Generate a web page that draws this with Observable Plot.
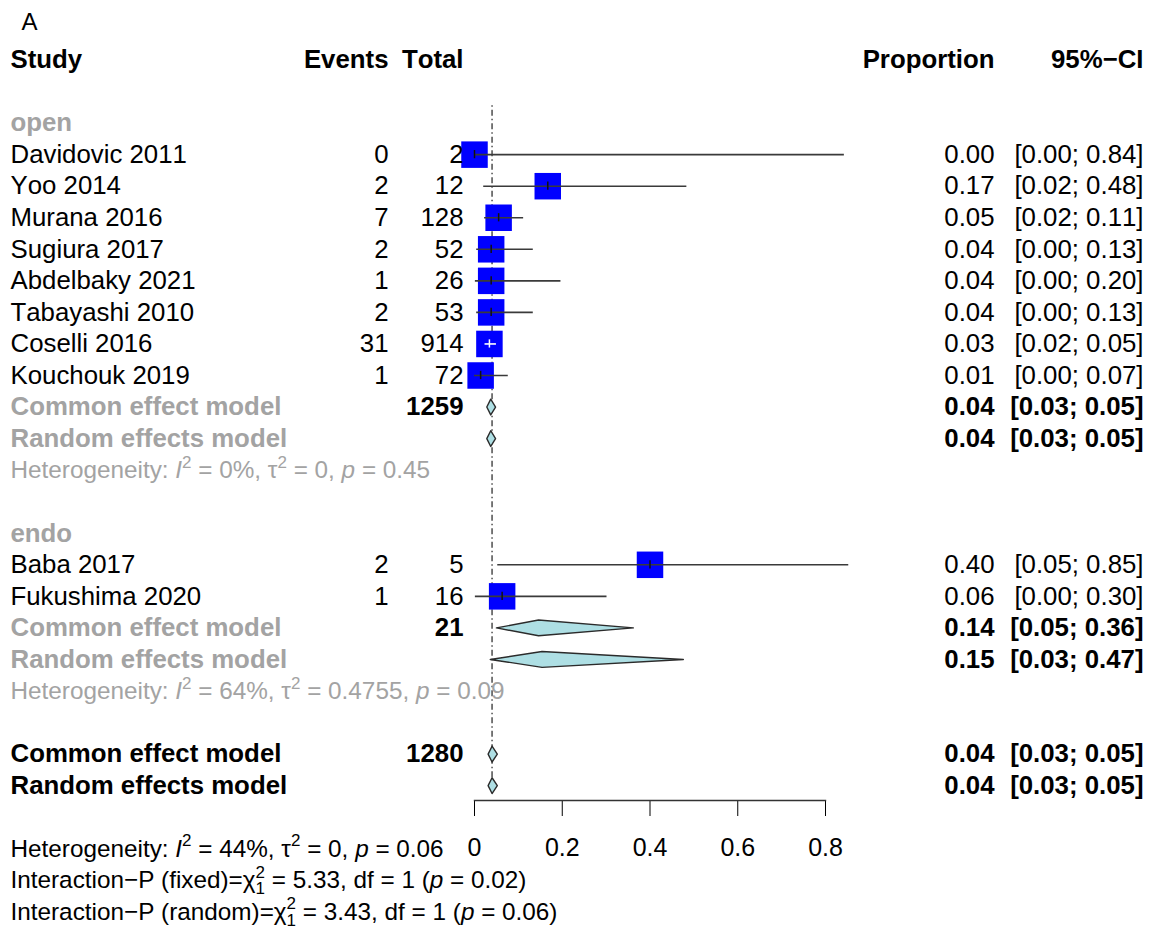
<!DOCTYPE html>
<html>
<head>
<meta charset="utf-8">
<script src="https://cdn.jsdelivr.net/npm/d3@7"></script>
<script src="https://cdn.jsdelivr.net/npm/@observablehq/plot@0.6"></script>
<style>
  body { margin: 0; background: #fff; }
  #chart svg { display: block; font-kerning: none; }
</style>
</head>
<body>
<div id="chart"></div>
<script>
// ---------------- data ----------------
const studies = ["Davidovic 2011", "Yoo 2014", "Murana 2016", "Sugiura 2017", "Abdelbaky 2021",
                 "Tabayashi 2010", "Coselli 2016", "Kouchouk 2019", "Baba 2017", "Fukushima 2020"];
const groups = ["open", "open", "open", "open", "open", "open", "open", "open", "endo", "endo"];
const events = [0, 2, 7, 2, 1, 2, 31, 1, 2, 1];
const totals = [2, 12, 128, 52, 26, 53, 914, 72, 5, 16];
const props  = [0.00, 0.167, 0.055, 0.038, 0.038, 0.038, 0.034, 0.014, 0.40, 0.063];
const lowers = [0.00, 0.021, 0.023, 0.005, 0.002, 0.005, 0.024, 0.000, 0.053, 0.002];
const uppers = [0.843, 0.484, 0.112, 0.134, 0.197, 0.134, 0.050, 0.077, 0.853, 0.302];
const propLabels = ["0.00", "0.17", "0.05", "0.04", "0.04", "0.04", "0.03", "0.01", "0.40", "0.06"];
const ciLabels = ["[0.00; 0.84]", "[0.02; 0.48]", "[0.02; 0.11]", "[0.00; 0.13]", "[0.00; 0.20]",
                  "[0.00; 0.13]", "[0.02; 0.05]", "[0.00; 0.07]", "[0.05; 0.85]", "[0.00; 0.30]"];

const subgroups = ["open", "endo"];
const modelNames = ["Common effect model", "Random effects model"];
// index: open, endo, overall
const modelTotals   = [1259, 21, 1280];
const commonEst     = [0.037, 0.146, 0.040];
const commonLower   = [0.028, 0.050, 0.031];
const commonUpper   = [0.048, 0.362, 0.052];
const randomEst     = [0.037, 0.154, 0.040];
const randomLower   = [0.028, 0.036, 0.031];
const randomUpper   = [0.048, 0.476, 0.052];
const commonLabels  = ["0.04", "0.14", "0.04"];
const commonCI      = ["[0.03; 0.05]", "[0.05; 0.36]", "[0.03; 0.05]"];
const randomLabels  = ["0.04", "0.15", "0.04"];
const randomCI      = ["[0.03; 0.05]", "[0.03; 0.47]", "[0.03; 0.05]"];
const hetLabels = [
  "Heterogeneity: {i:I}{sup:2} = 0%, τ{sup:2} = 0, {i:p} = 0.45",
  "Heterogeneity: {i:I}{sup:2} = 64%, τ{sup:2} = 0.4755, {i:p} = 0.09"
];
const footerLabels = [
  "Heterogeneity: {i:I}{sup:2} = 44%, τ{sup:2} = 0, {i:p} = 0.06",
  "Interaction\u2212P (fixed)=χ{ss:2,1} = 5.33, df = 1 ({i:p} = 0.02)",
  "Interaction\u2212P (random)=χ{ss:2,1} = 3.43, df = 1 ({i:p} = 0.06)"
];
const headers = ["Study", "Events", "Total", "Proportion", "95%\u2212CI"];
const refValue = 0.04;
const xTicks = [0, 0.2, 0.4, 0.6, 0.8];

// ---------------- layout rows ----------------
const studyRows = [], modelRows = [], groupRows = [], hetRows = [], footerRows = [];
let r = 2;
subgroups.forEach((g, gi) => {
  groupRows.push({row: r, text: g}); r++;
  studies.forEach((s, i) => {
    if (groups[i] !== g) return;
    studyRows.push({row: r, study: s, events: events[i], total: totals[i], prop: props[i],
                    lower: lowers[i], upper: uppers[i], propLabel: propLabels[i], ciLabel: ciLabels[i]});
    r++;
  });
  modelNames.forEach((m, k) => {
    modelRows.push(k === 0
      ? {row: r, name: m, overall: false, total: String(modelTotals[gi]), est: commonEst[gi], lo: commonLower[gi], hi: commonUpper[gi], lab: commonLabels[gi], ci: commonCI[gi]}
      : {row: r, name: m, overall: false, total: "", est: randomEst[gi], lo: randomLower[gi], hi: randomUpper[gi], lab: randomLabels[gi], ci: randomCI[gi]});
    r++;
  });
  hetRows.push({row: r, text: hetLabels[gi]}); r += 2;
});
modelNames.forEach((m, k) => {
  modelRows.push(k === 0
    ? {row: r, name: m, overall: true, total: String(modelTotals[2]), est: commonEst[2], lo: commonLower[2], hi: commonUpper[2], lab: commonLabels[2], ci: commonCI[2]}
    : {row: r, name: m, overall: true, total: "", est: randomEst[2], lo: randomLower[2], hi: randomUpper[2], lab: randomLabels[2], ci: randomCI[2]});
  r++;
});
const lastRow = r - 1;
r += 1;
footerLabels.forEach(t => { footerRows.push({row: r, text: t}); r++; });

const DH = 0.25; // diamond half height in rows
const diamondPts = [];
modelRows.forEach((d, i) => {
  diamondPts.push({id: i, x: d.lo, y: d.row}, {id: i, x: d.est, y: d.row - DH},
                  {id: i, x: d.hi, y: d.row}, {id: i, x: d.est, y: d.row + DH},
                  {id: i, x: d.lo, y: d.row});
});

// ---------------- geometry ----------------
const W = 1153, H = 928;
const X0 = 474, X1 = 825;          // x axis pixel span
const ROW0 = 59.5, ROWH = 31.55;   // row layout
const SQ = 26.5;                   // square side
const pxPerUnit = (X1 - X0) / 0.8;
const GRAY = "#a3a3a3";
const FS = 25.8, FS2 = 24.3, FSTICK = 25;
const colX = [10 - X0, 388 - X0, 463 - X0, 994 - X0, 1143 - X0];

const isNarrow = d => (d.upper - d.lower) * pxPerUnit < SQ;
const headerMarks = headers.map((h, i) => Plot.text([h], {
  y: () => 0, text: d => d, frameAnchor: "left", dx: colX[i], fontWeight: "bold", fontSize: FS,
  textAnchor: i === 0 ? "start" : "end"
}));

const plot = Plot.plot({
  width: W,
  height: H,
  marginLeft: X0,
  marginRight: W - X1,
  marginTop: 0,
  marginBottom: H - 800,
  style: {fontFamily: "'Liberation Sans', Arial, sans-serif", fontSize: FSTICK + "px", background: "#fff", overflow: "visible", color: "#000"},
  x: {domain: [0, 0.8], ticks: xTicks, tickFormat: d => String(d), tickSize: 16, tickPadding: 22, label: null},
  y: {domain: [0, 28], range: [ROW0, ROW0 + 28 * ROWH], axis: null},
  color: {type: "identity"},
  marks: [
    Plot.frame({anchor: "bottom", stroke: "#333", strokeWidth: 1.4}),
    // reference line
    Plot.ruleX([refValue], {y1: 1.45, y2: lastRow + 0.2, stroke: "#333", strokeWidth: 1.3, strokeDasharray: "1.5,3,6,3"}),
    // diamonds
    Plot.line(diamondPts, {x: "x", y: "y", z: "id", fill: "#aedfe4", stroke: "#2b2b2b", strokeWidth: 1.4, curve: "linear"}),
    // squares
    Plot.dot(studyRows, {x: "prop", y: "row", symbol: "square", r: SQ / Math.sqrt(Math.PI), fill: "#0000ff", stroke: null}),
    // CI whiskers and estimate ticks
    Plot.ruleY(studyRows, {y: "row", x1: "lower", x2: "upper", stroke: d => isNarrow(d) ? "#ffffff" : "#3a3a3a", strokeWidth: 1.6}),
    Plot.ruleX(studyRows, {x: "prop", y1: d => d.row - 0.13, y2: d => d.row + 0.13, stroke: d => isNarrow(d) ? "#ffffff" : "#111111", strokeWidth: 1.5}),
    // header
    ...headerMarks,
    // panel label
    Plot.text(["A"], {y: () => -1.2, text: d => d, frameAnchor: "left", dx: 21 - X0, fontSize: 24, textAnchor: "start"}),
    // subgroup labels
    Plot.text(groupRows, {y: "row", text: "text", frameAnchor: "left", dx: colX[0], fontWeight: "bold", fontSize: FS, fill: GRAY, textAnchor: "start"}),
    // study rows
    Plot.text(studyRows, {y: "row", text: "study", frameAnchor: "left", dx: colX[0], fontSize: FS, textAnchor: "start"}),
    Plot.text(studyRows, {y: "row", text: d => String(d.events), frameAnchor: "left", dx: colX[1], fontSize: FS, textAnchor: "end"}),
    Plot.text(studyRows, {y: "row", text: d => String(d.total), frameAnchor: "left", dx: colX[2], fontSize: FS, textAnchor: "end"}),
    Plot.text(studyRows, {y: "row", text: "propLabel", frameAnchor: "left", dx: colX[3], fontSize: FS, textAnchor: "end"}),
    Plot.text(studyRows, {y: "row", text: "ciLabel", frameAnchor: "left", dx: colX[4], fontSize: FS, textAnchor: "end"}),
    // model rows
    Plot.text(modelRows, {y: "row", text: "name", frameAnchor: "left", dx: colX[0], fontSize: FS, fontWeight: "bold", fill: d => d.overall ? "#000000" : GRAY, textAnchor: "start"}),
    Plot.text(modelRows, {y: "row", text: "total", frameAnchor: "left", dx: colX[2], fontSize: FS, fontWeight: "bold", textAnchor: "end"}),
    Plot.text(modelRows, {y: "row", text: "lab", frameAnchor: "left", dx: colX[3], fontSize: FS, fontWeight: "bold", textAnchor: "end"}),
    Plot.text(modelRows, {y: "row", text: "ci", frameAnchor: "left", dx: colX[4], fontSize: FS, fontWeight: "bold", textAnchor: "end"}),
    // heterogeneity
    Plot.text(hetRows, {y: "row", text: "text", frameAnchor: "left", dx: colX[0], fontSize: FS2, fill: GRAY, textAnchor: "start"}),
    Plot.text(footerRows, {y: "row", text: "text", frameAnchor: "left", dx: colX[0], fontSize: FS2, textAnchor: "start"})
  ]
});

// rich text: italics, superscripts, stacked sup/sub
function richify(svg, fs) {
  const ns = "http://www.w3.org/2000/svg";
  svg.querySelectorAll("text").forEach(t => {
    const s = t.textContent;
    if (!s.includes("{")) return;
    t.textContent = "";
    const re = /\{(\w+):([^}]*)\}/g;
    let last = 0, m, pending = 0;
    const add = (txt, attrs) => {
      const ts = document.createElementNS(ns, "tspan");
      ts.textContent = txt;
      for (const k in attrs) ts.setAttribute(k, attrs[k]);
      t.appendChild(ts);
    };
    const plain = (txt, extra = {}) => {
      if (!txt) return;
      const a = Object.assign({}, extra);
      if (pending) { a.dy = pending; pending = 0; }
      add(txt, a);
    };
    while ((m = re.exec(s))) {
      plain(s.slice(last, m.index));
      const kind = m[1], val = m[2];
      if (kind === "i") plain(val, {"font-style": "italic"});
      else if (kind === "sup") {
        const up = 0.42 * fs;
        add(val, {dy: -up + pending, "font-size": 0.7 * fs});
        pending = up;
      } else if (kind === "ss") {
        const [a, b] = val.split(",");
        const up = 0.42 * fs, down = 0.25 * fs;
        add(a, {dy: -up + pending, "font-size": 0.7 * fs});
        add(b, {dx: -0.556 * 0.7 * fs, dy: up + down, "font-size": 0.7 * fs});
        pending = -down;
      }
      last = re.lastIndex;
    }
    plain(s.slice(last));
  });
}
richify(plot, FS2);
document.getElementById("chart").appendChild(plot);
</script>
</body>
</html>
